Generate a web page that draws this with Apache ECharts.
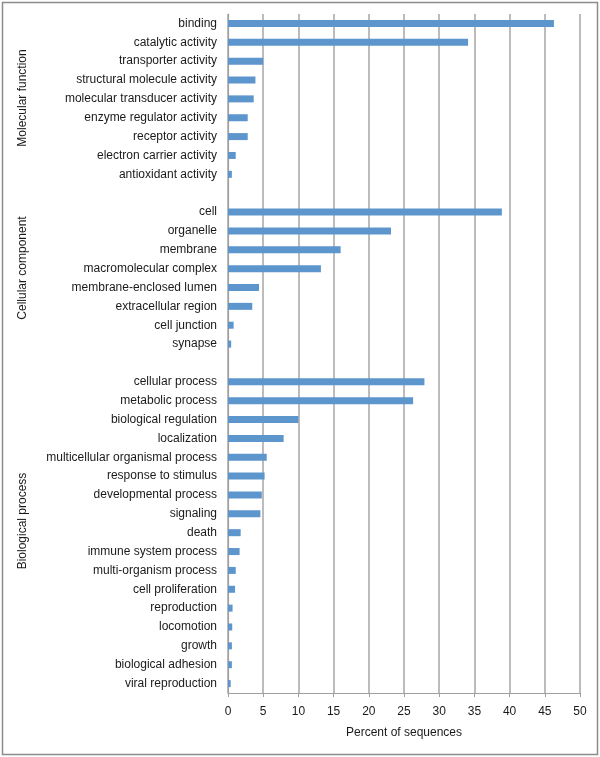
<!DOCTYPE html>
<html>
<head>
<meta charset="utf-8">
<script src="https://cdn.jsdelivr.net/npm/echarts@6/dist/echarts.min.js"></script>
<style>
  html, body { margin: 0; padding: 0; background: #fff; }
  #chart { width: 600px; height: 757px; }
</style>
</head>
<body>
<div id="chart"></div>
<script>
// GO categories per group, top to bottom
const molecularFunction = [
  "binding", "catalytic activity", "transporter activity",
  "structural molecule activity", "molecular transducer activity",
  "enzyme regulator activity", "receptor activity",
  "electron carrier activity", "antioxidant activity"
];
const molecularFunctionValues = [46.3, 34.1, 5.0, 3.9, 3.65, 2.8, 2.8, 1.1, 0.55];

const cellularComponent = [
  "cell", "organelle", "membrane", "macromolecular complex",
  "membrane-enclosed lumen", "extracellular region", "cell junction", "synapse"
];
const cellularComponentValues = [38.9, 23.15, 16.0, 13.2, 4.4, 3.45, 0.8, 0.45];

const biologicalProcess = [
  "cellular process", "metabolic process", "biological regulation",
  "localization", "multicellular organismal process", "response to stimulus",
  "developmental process", "signaling", "death", "immune system process",
  "multi-organism process", "cell proliferation", "reproduction",
  "locomotion", "growth", "biological adhesion", "viral reproduction"
];
const biologicalProcessValues = [27.9, 26.3, 10.0, 7.9, 5.5, 5.2, 4.8, 4.6, 1.8, 1.65,
  1.1, 1.0, 0.65, 0.6, 0.55, 0.55, 0.38];

const groupNames = ["Molecular function", "Cellular component", "Biological process"];
const xTicks = [0, 50, 5]; // min, max, interval

// one blank row between groups
const categories = [...molecularFunction, " ", ...cellularComponent, "  ", ...biologicalProcess];
const values = [...molecularFunctionValues, null, ...cellularComponentValues, null, ...biologicalProcessValues];

const chart = echarts.init(document.getElementById("chart"));
const font = "'Liberation Sans', Arial, sans-serif";

chart.setOption({
  animation: false,
  grid: { left: 228, right: 20, top: 14, bottom: 64 },
  xAxis: {
    type: "value",
    min: xTicks[0],
    max: xTicks[1],
    interval: xTicks[2],
    name: "Percent of sequences",
    nameLocation: "middle",
    nameGap: 34,
    nameTextStyle: { fontFamily: font, fontSize: 12, color: "#1a1a1a" },
    axisLine: { show: true, lineStyle: { color: "#a0a0a0", width: 1.2 } },
    axisTick: { show: true, length: 4, lineStyle: { color: "#a0a0a0" } },
    axisLabel: { margin: 13, fontFamily: font, fontSize: 12, color: "#1a1a1a" },
    splitLine: { show: true, lineStyle: { color: "#a6a6a6", width: 1.5 } }
  },
  yAxis: {
    type: "category",
    inverse: true,
    data: categories,
    axisLine: { show: true, lineStyle: { color: "#a0a0a0", width: 1.2 } },
    axisTick: { show: false },
    axisLabel: { margin: 11, interval: 0, fontFamily: font, fontSize: 12, color: "#1a1a1a" }
  },
  series: [{
    type: "bar",
    data: values,
    barWidth: 7,
    itemStyle: { color: "#5d95cd" }
  }],
  graphic: [
    {
      type: "rect",
      shape: { x: 2.5, y: 2.5, width: 595, height: 752 },
      style: { fill: "none", stroke: "#8c8c8c", lineWidth: 1.5 },
      silent: true
    },
    ...groupNames.map((name, i) => ({
      type: "text",
      x: 23,
      y: [98, 268, 521][i],
      rotation: Math.PI / 2,
      style: {
        text: name,
        fontFamily: font,
        fontSize: 12,
        fill: "#1a1a1a",
        align: "center",
        verticalAlign: "middle"
      }
    }))
  ]
});
</script>
</body>
</html>
